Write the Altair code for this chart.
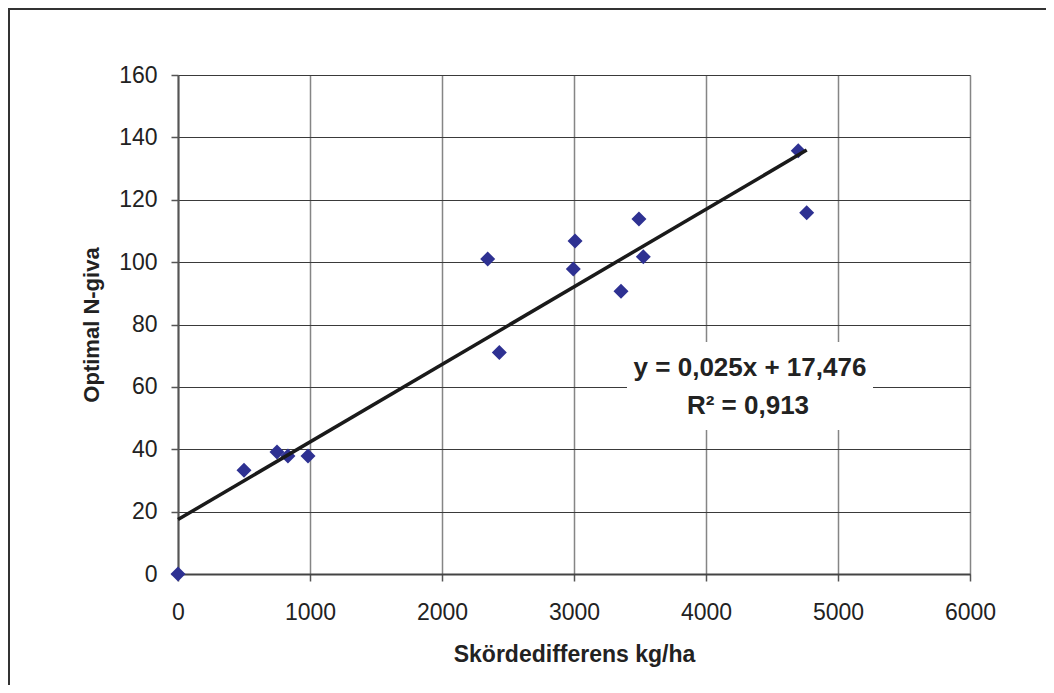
import altair as alt
import pandas as pd

# Data
skord_diff = [0, 500, 750, 833, 985, 2346, 2434, 2995, 3008, 3356, 3492, 3525, 4699, 4763]
optimal_n = [0, 33.3, 39.1, 37.8, 37.8, 101.0, 71.0, 97.8, 106.8, 90.7, 113.8, 101.7, 135.7, 115.8]
x_ticks = [0, 1000, 2000, 3000, 4000, 5000, 6000]
y_ticks = [0, 20, 40, 60, 80, 100, 120, 140, 160]
eq_lines = ["y = 0,025x + 17,476", "R² = 0,913"]

df = pd.DataFrame({"x": skord_diff, "y": optimal_n})

W, H = 792, 499
FONT = "Liberation Sans"

xscale = alt.Scale(domain=[0, 6000], nice=False, zero=False)
yscale = alt.Scale(domain=[0, 160], nice=False, zero=False)

xaxis = alt.Axis(
    values=x_ticks, format="d", title="Skördedifferens kg/ha", grid=True, gridColor="#858585",
    gridWidth=1.5, labelFontSize=23, labelFont=FONT, labelColor="#222222",
    titleFont=FONT, titleFontSize=23, titleFontWeight="bold", titleColor="#222222",
    tickSize=7, tickColor="#555555", tickWidth=1.5, labelPadding=20, titlePadding=19,
    domainColor="#444444", domainWidth=2, labelFlush=False, labelOverlap=False,
)
yaxis = alt.Axis(
    values=y_ticks, format="d", title="Optimal N-giva", grid=True, gridColor="#3a3a3a",
    gridWidth=1.2, labelFontSize=23, labelFont=FONT, labelColor="#222222",
    titleFont=FONT, titleFontSize=22, titleFontWeight="bold", titleColor="#222222",
    tickSize=7, tickColor="#555555", tickWidth=1.5, labelPadding=14, titlePadding=15,
    domainColor="#555555", domainWidth=2, labelFlush=False, labelOverlap=False,
)

base = alt.Chart(df)

points = base.mark_point(shape="diamond", filled=True, size=225, color="#2e3192", opacity=1).encode(
    x=alt.X("x:Q", scale=xscale, axis=xaxis),
    y=alt.Y("y:Q", scale=yscale, axis=yaxis),
)

trend = base.transform_regression("x", "y").mark_line(color="#1a1a1a", strokeWidth=3.5).encode(
    x=alt.X("x:Q", scale=xscale),
    y=alt.Y("y:Q", scale=yscale),
)

one = alt.Data(values=[{"a": 1}])

label_bg = alt.Chart(one).mark_rect(color="white").encode(
    x=alt.value(449), x2=alt.value(695), y=alt.value(267), y2=alt.value(355)
)

eq1 = alt.Chart(alt.Data(values=[{"t": eq_lines[0]}])).mark_text(
    font=FONT, fontSize=26, fontWeight="bold", color="#222222", align="center", baseline="middle"
).encode(x=alt.value(572), y=alt.value(293), text="t:N")

eq2 = alt.Chart(alt.Data(values=[{"t": eq_lines[1]}])).mark_text(
    font=FONT, fontSize=26, fontWeight="bold", color="#222222", align="center", baseline="middle"
).encode(x=alt.value(570), y=alt.value(331), text="t:N")

border_top = alt.Chart(one).mark_rule(stroke="#333333", strokeWidth=2).encode(
    x=alt.value(-170), x2=alt.value(868), y=alt.value(-66)
)
border_left = alt.Chart(one).mark_rule(stroke="#333333", strokeWidth=2).encode(
    x=alt.value(-169), y=alt.value(-67), y2=alt.value(610)
)

chart = alt.layer(points, trend, label_bg, eq1, eq2, border_top, border_left).properties(
    width=W, height=H,
    autosize=alt.AutoSizeParams(type="none"),
    padding={"left": 170, "top": 67, "right": 76, "bottom": 111},
).configure_view(stroke=None).configure(background="white")

chart.save("out.html", embed_options={"renderer": "svg", "actions": False})
